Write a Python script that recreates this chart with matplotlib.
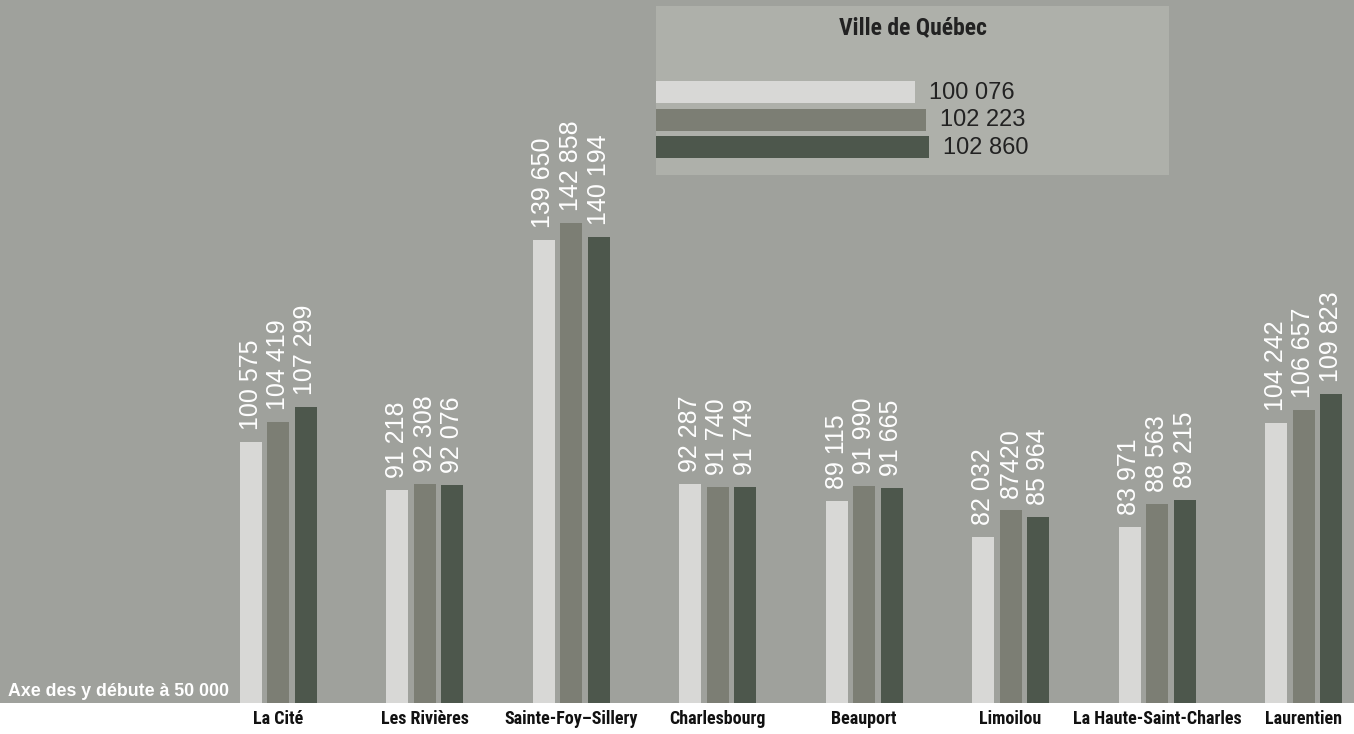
import matplotlib.pyplot as plt
from matplotlib import font_manager as fm
import numpy as np

# Revenu / valeur par arrondissement, trois séries
districts = ["La Cité", "Les Rivières", "Sainte-Foy–Sillery", "Charlesbourg",
             "Beauport", "Limoilou", "La Haute-Saint-Charles", "Laurentien"]
serie_a = [100575, 91218, 139650, 92287, 89115, 82032, 83971, 104242]
serie_b = [104419, 92308, 142858, 91740, 91990, 87420, 88563, 106657]
serie_c = [107299, 92076, 140194, 91749, 91665, 85964, 89215, 109823]
ville = [100076, 102223, 102860]

# libellés tels qu'imprimés (un seul sans espace)
special_labels = {(1, 5): "87420"}

colors = ["#d8d8d6", "#7c7e74", "#4d574c"]
bg = "#9fa19c"
box_bg = "#aeb0aa"
base = 50000

# police étroite pour les noms d'arrondissements
installed = {f.name for f in fm.fontManager.ttflist}
narrow = "Liberation Sans"
for cand in ["Roboto Condensed", "Archivo Narrow", "PT Sans Narrow",
             "Liberation Sans Narrow", "Open Sans Condensed"]:
    if cand in installed:
        narrow = cand
        break
narrow_size = 13 if narrow != "Liberation Sans" else 11


def fmt(v):
    return f"{v:,}".replace(",", " ")


fig = plt.figure(figsize=(13.54, 7.34), dpi=100)
fig.patch.set_facecolor("white")

ax = fig.add_axes([0, 31 / 734, 1, 703 / 734])
ax.set_facecolor(bg)
for s in ax.spines.values():
    s.set_visible(False)

x = np.arange(len(districts))
step = 27.5 / 146.5
width = 22 / 146.5
for i, serie in enumerate([serie_a, serie_b, serie_c]):
    pos = x + (i - 1) * step
    vals = np.array(serie)
    ax.bar(pos, vals - base, bottom=base, width=width, color=colors[i], zorder=2)
    for j, v in enumerate(serie):
        lab = special_labels.get((i, j), fmt(v))
        ax.annotate(lab, (pos[j], v), xytext=(0, 12), textcoords="offset pixels",
                    rotation=90, ha="center", va="bottom", color="white",
                    fontsize=18, family="Liberation Sans")

ax.set_xlim(-278 / 146.5, (1354 - 278) / 146.5)
ax.set_ylim(base, base + 703 / 5.17 * 1000)
ax.set_yticks([])
ax.set_xticks(x)
ax.set_xticklabels(districts, family=[narrow, "DejaVu Sans"],
                   fontsize=narrow_size, fontweight="bold", color="#111111")
ax.tick_params(axis="x", length=0, pad=5)

ax.text(8 / 1354, 3 / 703, "Axe des y débute à 50 000", transform=ax.transAxes,
        color="white", fontsize=12.8, fontweight="bold", family="Liberation Sans",
        ha="left", va="bottom")

# encadré Ville de Québec
lg = fig.add_axes([656 / 1354, (734 - 175) / 734, 513 / 1354, 169 / 734])
lg.set_facecolor(box_bg)
for s in lg.spines.values():
    s.set_visible(False)
lg.set_xticks([])
lg.set_yticks([])
yy = np.arange(len(ville))
lg.barh(yy, np.array(ville) - base, left=base, height=0.8, color=colors)
for k, v in enumerate(ville):
    lg.annotate(fmt(v), (v, yy[k]), xytext=(14, -1), textcoords="offset pixels",
                ha="left", va="center", color="#222222", fontsize=17,
                family="Liberation Sans")
lg.set_xlim(base, base + 513 / 5.17 * 1000)
lg.set_ylim((169 - 86) / 27.5, -86 / 27.5)
lg.text(0.5, 1 - 22 / 169, "Ville de Québec", transform=lg.transAxes,
        ha="center", va="center", fontsize=17, fontweight="bold",
        family=[narrow, "DejaVu Sans"], color="#222222")

fig.savefig("out.png", dpi=100)
